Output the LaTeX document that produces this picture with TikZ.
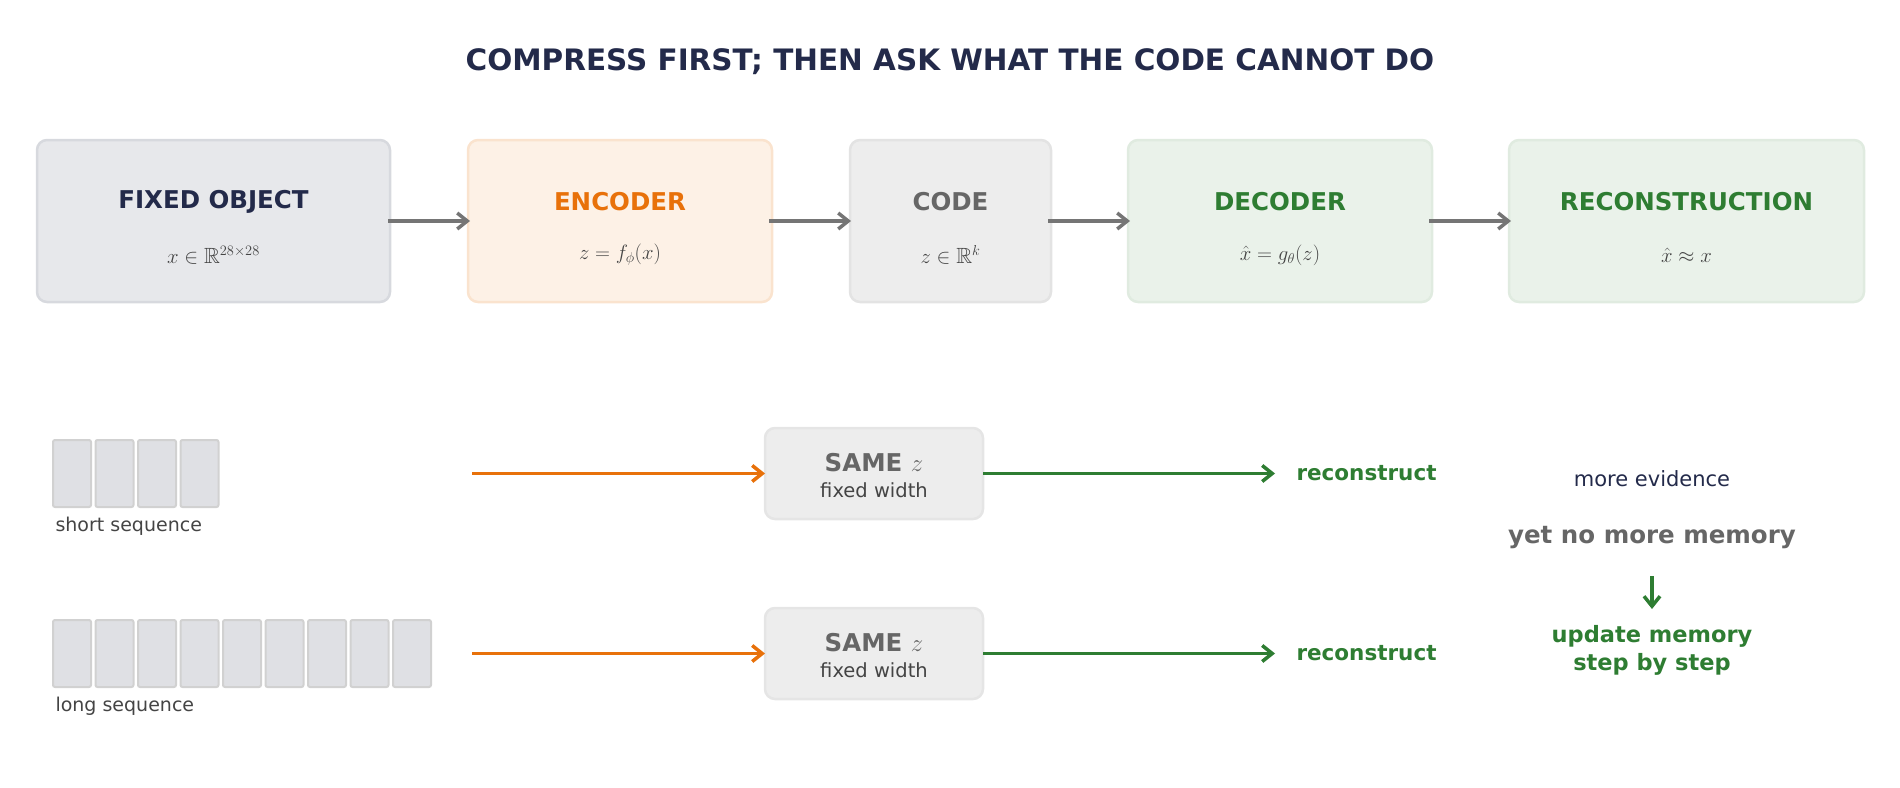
\documentclass[tikz,border=0pt]{standalone}
\usepackage{fontspec}
\setmainfont{DejaVu Sans}
\usepackage{amssymb}
\usetikzlibrary{arrows.meta}
\definecolor{navy}{HTML}{232A4A}
\definecolor{orng}{HTML}{E8710A}
\definecolor{grn}{HTML}{2E7D32}
\definecolor{gry}{HTML}{666666}
\definecolor{txt}{HTML}{444444}
\definecolor{cellc}{HTML}{DFE0E4}
\tikzset{
 box/.style={rounded corners=10pt,line width=2.5pt,inner sep=0pt},
 ttl/.style={font=\fontsize{24.5}{28}\selectfont\bfseries},
 sub/.style={font=\fontsize{22}{24}\selectfont,text=txt},
 flow/.style={-{Straight Barb[length=10pt,width=16pt]},line width=3.5pt,draw=gry!90},
 ar/.style={-{Straight Barb[length=10pt,width=16pt]},line width=3.5pt},
 cell/.style={draw=black!18,fill=cellc,rounded corners=2pt,line width=2pt,minimum width=38pt,minimum height=67pt,inner sep=0pt},
}
\begin{document}
\begin{tikzpicture}[x=1pt,y=-1pt]
\useasboundingbox (0,0) rectangle (1900,787);
\node[font=\fontsize{29.5}{32}\selectfont\bfseries,text=navy] (title) at (950,62) {COMPRESS FIRST; THEN ASK WHAT THE CODE CANNOT DO};
% top boxes
\draw[box,fill=navy!11,draw=navy!18] (37,140) rectangle (390,302);
\draw[box,fill=orng!10,draw=orng!20] (468,140) rectangle (772,302);
\draw[box,fill=black!7,draw=black!11] (850,140) rectangle (1051,302);
\draw[box,fill=grn!10,draw=grn!15] (1128,140) rectangle (1432,302);
\draw[box,fill=grn!10,draw=grn!15] (1509,140) rectangle (1864,302);
\node[ttl,text=navy] (t1) at (213.5,202) {FIXED OBJECT};
\node[sub] (s1) at (213.5,255) {$x\in\mathbb{R}^{28\times28}$};
\node[ttl,text=orng] (t2) at (620,202) {ENCODER};
\node[sub] (s2) at (620,255) {$z=f_\phi(x)$};
\node[ttl,text=gry] (t3) at (950.5,202) {CODE};
\node[sub] (s3) at (950.5,255) {$z\in\mathbb{R}^k$};
\node[ttl,text=grn] (t4) at (1280,202) {DECODER};
\node[sub] (s4) at (1280,255) {$\hat{x}=g_\theta(z)$};
\node[ttl,text=grn] (t5) at (1686.5,202) {RECONSTRUCTION};
\node[sub] (s5) at (1686.5,255) {$\hat{x}\approx x$};
\coordinate (a1) at (388,221); \coordinate (b1) at (470,221);
\coordinate (a2) at (769,221); \coordinate (b2) at (851,221);
\coordinate (a3) at (1048,221); \coordinate (b3) at (1130,221);
\coordinate (a4) at (1429,221); \coordinate (b4) at (1511,221);
\draw[flow] (a1)--(b1); \draw[flow] (a2)--(b2); \draw[flow] (a3)--(b3); \draw[flow] (a4)--(b4);
% sequences
\foreach \i in {0,...,3} \node[cell] (c\i) at (72+\i*42.5,473.5) {};
\foreach \i in {0,...,8} \node[cell] (d\i) at (72+\i*42.5,653.5) {};
\node[anchor=west,font=\fontsize{19}{22}\selectfont,text=txt] (ls) at (52,526) {short sequence};
\node[anchor=west,font=\fontsize{19}{22}\selectfont,text=txt] (ll) at (52,706) {long sequence};
% same z boxes
\foreach \y/\n in {473.5/A,653.5/B}{
 \draw[box,fill=black!7,draw=black!10] (765,\y-45.5) rectangle (983,\y+45.5);
 \node[font=\fontsize{24.5}{28}\selectfont\bfseries,text=gry] (z\n) at (874,\y-11) {SAME \textmd{$z$}};
 \node[font=\fontsize{19.5}{22}\selectfont,text=txt] (w\n) at (874,\y+17) {fixed width};
 \coordinate (o\n) at (472,\y); \coordinate (p\n) at (765,\y);
 \coordinate (q\n) at (983,\y); \coordinate (r\n) at (1275,\y);
 \draw[ar,draw=orng] (o\n)--(p\n);
 \draw[ar,draw=grn] (q\n)--(r\n);
 \node[anchor=west,font=\fontsize{21.5}{24}\selectfont\bfseries,text=grn] (rc\n) at (1293,\y) {reconstruct};
}
\node[font=\fontsize{21}{24}\selectfont,text=navy] (me) at (1652,479) {more evidence};
\node[font=\fontsize{24.5}{28}\selectfont\bfseries,text=gry] (nm) at (1652,538) {yet no more memory};
\coordinate (u1) at (1652,576); \coordinate (u2) at (1652,609);
\draw[ar,draw=grn] (u1)--(u2);
\node[font=\fontsize{22.5}{28}\selectfont\bfseries,text=grn,align=center] (um) at (1652,650) {update memory\\step by step};
\end{tikzpicture}
\end{document}
